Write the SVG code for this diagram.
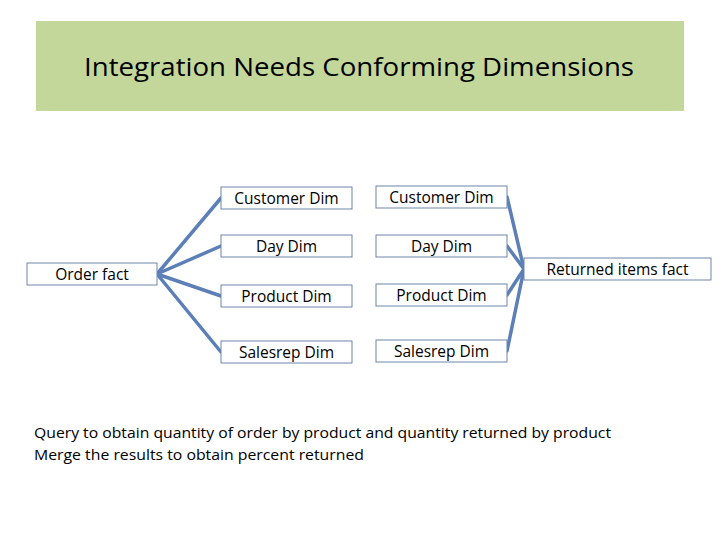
<svg xmlns="http://www.w3.org/2000/svg" width="720" height="540" viewBox="0 0 720 540">
<style>
.box{fill:#ffffff;stroke:#6a86a8;stroke-width:1}
.lbl{font-family:"Open Sans","Liberation Sans",sans-serif;font-size:15.5px;fill:#000;text-anchor:middle}
.con{stroke:#5b7fb6;stroke-width:3.5;fill:none;stroke-linecap:round}
.note{font-family:"Open Sans","Liberation Sans",sans-serif;font-size:14.5px;fill:#000}
</style>
<rect x="0" y="0" width="720" height="540" fill="#ffffff"/>
<g id="title">
<rect x="36" y="21" width="648" height="90" fill="#c4d79b"/>
<text x="359" y="76" font-family="Open Sans, Liberation Sans, sans-serif" font-size="25" text-anchor="middle" fill="#000" textLength="550" lengthAdjust="spacingAndGlyphs">Integration Needs Conforming Dimensions</text>
</g>
<g id="connectors">
<line class="con" x1="157" y1="274" x2="221" y2="198"/>
<line class="con" x1="157" y1="274" x2="221" y2="246"/>
<line class="con" x1="157" y1="274" x2="221" y2="296"/>
<line class="con" x1="157" y1="274" x2="221" y2="352"/>
<line class="con" x1="507" y1="197" x2="524" y2="269"/>
<line class="con" x1="507" y1="246" x2="524" y2="269"/>
<line class="con" x1="507" y1="295" x2="524" y2="269"/>
<line class="con" x1="507" y1="351" x2="524" y2="269"/>
</g>
<g id="order-fact">
<rect class="box" x="27" y="263" width="130" height="22"/>
<text class="lbl" x="92" y="279.5">Order fact</text>
</g>
<g id="customer-dim-1">
<rect class="box" x="221" y="187" width="131" height="22"/>
<text class="lbl" x="286.5" y="203.5">Customer Dim</text>
</g>
<g id="day-dim-1">
<rect class="box" x="221" y="235" width="131" height="22"/>
<text class="lbl" x="286.5" y="251.5">Day Dim</text>
</g>
<g id="product-dim-1">
<rect class="box" x="221" y="285" width="131" height="22"/>
<text class="lbl" x="286.5" y="301.5">Product Dim</text>
</g>
<g id="salesrep-dim-1">
<rect class="box" x="221" y="341" width="131" height="22"/>
<text class="lbl" x="286.5" y="357.5">Salesrep Dim</text>
</g>
<g id="customer-dim-2">
<rect class="box" x="376" y="186" width="131" height="22"/>
<text class="lbl" x="441.5" y="202.5">Customer Dim</text>
</g>
<g id="day-dim-2">
<rect class="box" x="376" y="235" width="131" height="22"/>
<text class="lbl" x="441.5" y="251.5">Day Dim</text>
</g>
<g id="product-dim-2">
<rect class="box" x="376" y="284" width="131" height="22"/>
<text class="lbl" x="441.5" y="300.5">Product Dim</text>
</g>
<g id="salesrep-dim-2">
<rect class="box" x="376" y="340" width="131" height="22"/>
<text class="lbl" x="441.5" y="356.5">Salesrep Dim</text>
</g>
<g id="returned-items-fact">
<rect class="box" x="524" y="258" width="187" height="22"/>
<text class="lbl" x="617.5" y="274.5">Returned items fact</text>
</g>
<g id="notes">
<text class="note" x="34" y="438" textLength="577" lengthAdjust="spacingAndGlyphs">Query to obtain quantity of order by product and quantity returned by product</text>
<text class="note" x="34" y="460" textLength="330" lengthAdjust="spacingAndGlyphs">Merge the results to obtain percent returned</text>
</g>
</svg>
